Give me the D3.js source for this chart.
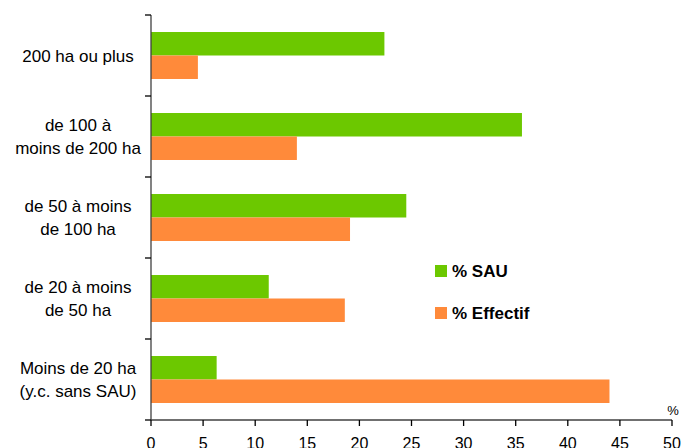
<!DOCTYPE html>
<html lang="fr">
<head>
    <meta charset="UTF-8">
    <title>SAU et effectif par taille</title>
    <script src="https://d3js.org/d3.v7.min.js"></script>
    <style>
        body { margin: 0; background: #fff; }
        svg { display: block; font-family: "Liberation Sans", Arial, sans-serif; }
        .cat text { font-size: 17px; fill: #000; }
        .tick-label { font-size: 16px; fill: #000; }
        .legend text { font-size: 17px; font-weight: bold; fill: #000; }
    </style>
</head>
<body>
    <div id="chart"></div>

    <script>
        // categories, top to bottom (lines of each label)
        const categories = ["200 ha ou plus", "de 100 à moins de 200 ha", "de 50 à moins de 100 ha",
                            "de 20 à moins de 50 ha", "Moins de 20 ha (y.c. sans SAU)"];
        const labelLines = [
            ["200 ha ou plus"],
            ["de 100 à", "moins de 200 ha"],
            ["de 50 à moins", "de 100 ha"],
            ["de 20 à moins", "de 50 ha"],
            ["Moins de 20 ha", "(y.c. sans SAU)"]
        ];
        const series = ["% SAU", "% Effectif"];
        const sau = [22.4, 35.6, 24.5, 11.3, 6.3];
        const effectif = [4.5, 14.0, 19.1, 18.6, 44.0];
        const xTicks = [0, 5, 10, 15, 20, 25, 30, 35, 40, 45, 50];

        const colors = {"% SAU": "#6cc800", "% Effectif": "#ff8a3a"};

        const width = 681, height = 448;
        const margin = {top: 15, right: 9, bottom: 28, left: 151};

        const svg = d3.select("#chart").append("svg")
            .attr("width", width)
            .attr("height", height);

        const x = d3.scaleLinear().domain([0, 50]).range([margin.left, width - margin.right]);
        const y = d3.scaleBand().domain(categories).range([margin.top, height - margin.bottom]).padding(0);
        const yInner = d3.scaleBand().domain(series)
            .range([y.bandwidth() * 0.21, y.bandwidth() * 0.79]).padding(0);

        const rows = categories.map((c, i) => ({cat: c, lines: labelLines[i], values: [
            {key: "% SAU", value: sau[i]},
            {key: "% Effectif", value: effectif[i]}
        ]}));

        // bars
        const group = svg.selectAll(".grp")
            .data(rows)
            .enter().append("g")
            .attr("class", "grp")
            .attr("transform", d => "translate(0," + y(d.cat) + ")");

        group.selectAll("rect")
            .data(d => d.values)
            .enter().append("rect")
            .attr("x", x(0))
            .attr("y", d => yInner(d.key))
            .attr("width", d => x(d.value) - x(0))
            .attr("height", yInner.bandwidth())
            .attr("fill", d => colors[d.key]);

        // y axis: line + ticks at band boundaries
        const yEdges = categories.map(c => y(c)).concat([y.range()[1]]);
        svg.append("line")
            .attr("x1", x(0)).attr("x2", x(0))
            .attr("y1", y.range()[0]).attr("y2", y.range()[1])
            .attr("stroke", "#404040").attr("stroke-width", 1.3);
        svg.selectAll(".ytick")
            .data(yEdges)
            .enter().append("line")
            .attr("x1", x(0) - 6).attr("x2", x(0))
            .attr("y1", d => d).attr("y2", d => d)
            .attr("stroke", "#000").attr("stroke-width", 1.3);

        // category labels
        const cat = svg.selectAll(".cat")
            .data(rows)
            .enter().append("g")
            .attr("class", "cat")
            .attr("transform", d => "translate(78," + (y(d.cat) + y.bandwidth() / 2) + ")");
        cat.selectAll("text")
            .data(d => d.lines.map((t, i) => ({t: t, i: i, n: d.lines.length})))
            .enter().append("text")
            .attr("text-anchor", "middle")
            .attr("y", d => (d.i - (d.n - 1) / 2) * 23 + 6)
            .text(d => d.t);

        // x axis
        const xAxis = svg.append("g")
            .attr("transform", "translate(0," + y.range()[1] + ")");
        xAxis.append("line")
            .attr("x1", x(0)).attr("x2", x(50))
            .attr("y1", 0).attr("y2", 0)
            .attr("stroke", "#404040").attr("stroke-width", 1.3);
        xAxis.selectAll(".xtick")
            .data(xTicks)
            .enter().append("line")
            .attr("x1", d => x(d)).attr("x2", d => x(d))
            .attr("y1", 0).attr("y2", 6)
            .attr("stroke", "#000").attr("stroke-width", 1.3);
        xAxis.selectAll(".tick-label")
            .data(xTicks)
            .enter().append("text")
            .attr("class", "tick-label")
            .attr("text-anchor", "middle")
            .attr("x", d => x(d))
            .attr("y", 28.5)
            .text(d => d);

        svg.append("text")
            .attr("x", 673).attr("y", 415)
            .attr("text-anchor", "middle")
            .style("font-size", "13px")
            .text("%");

        // legend
        const legend = svg.append("g").attr("class", "legend");
        const legendItem = legend.selectAll("g")
            .data(series)
            .enter().append("g")
            .attr("transform", (d, i) => "translate(435," + (265 + i * 42) + ")");
        legendItem.append("rect")
            .attr("width", 12).attr("height", 12)
            .attr("fill", d => colors[d]);
        legendItem.append("text")
            .attr("x", 17).attr("y", 12)
            .text(d => d);
    </script>
</body>
</html>
